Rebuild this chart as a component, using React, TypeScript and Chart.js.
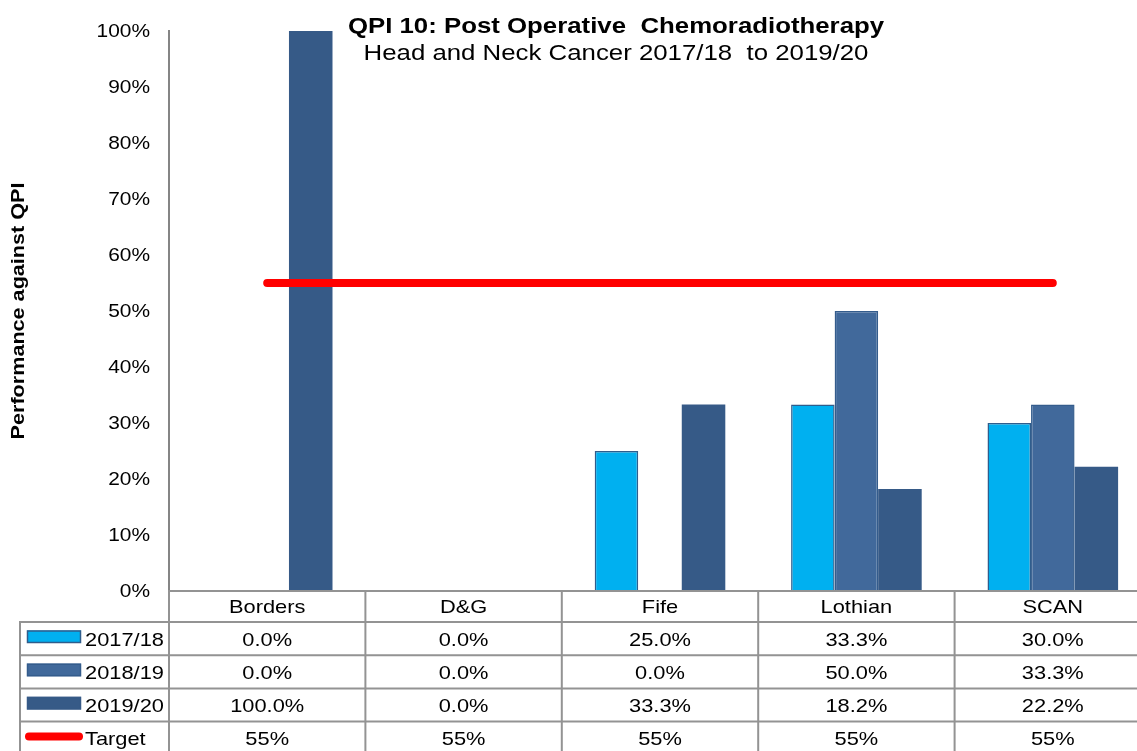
import React, { useEffect, useRef } from "react";
import { Chart, registerables } from "chart.js";

Chart.register(...registerables);

const CATEGORIES = ["Borders", "D&G", "Fife", "Lothian", "SCAN"];
const SERIES_NAMES = ["2017/18", "2018/19", "2019/20"];
const VALUES_2017_18 = [0.0, 0.0, 25.0, 33.3, 30.0];
const VALUES_2018_19 = [0.0, 0.0, 0.0, 50.0, 33.3];
const VALUES_2019_20 = [100.0, 0.0, 33.3, 18.2, 22.2];
const TARGET = [55, 55, 55, 55, 55];
const TARGET_NAME = "Target";
const Y_TICKS = [0, 10, 20, 30, 40, 50, 60, 70, 80, 90, 100];
const TITLE = "QPI 10: Post Operative  Chemoradiotherapy";
const SUBTITLE = "Head and Neck Cancer 2017/18  to 2019/20";
const Y_TITLE = "Performance against QPI";

const FILLS = ["#00B0F0", "#41699B", "#365A87"];
const BORDERS = ["#2F5D8C", "#345C8C", "#365A87"];
const FONT = "Arial, 'Liberation Sans', sans-serif";
const LINE_GRAY = "#939393";
const STRETCH = 1.18;

function text(
  ctx: CanvasRenderingContext2D,
  s: string,
  x: number,
  y: number,
  align: CanvasTextAlign,
  font: string,
  baseline: CanvasTextBaseline = "alphabetic",
  rotate = 0,
  stretch = STRETCH
) {
  ctx.save();
  ctx.font = font;
  (ctx as any).letterSpacing = "0px";
  ctx.textAlign = align;
  ctx.textBaseline = baseline;
  ctx.fillStyle = "#000";
  ctx.translate(x, y);
  if (rotate) ctx.rotate(rotate);
  ctx.scale(stretch, 1);
  ctx.fillText(s, 0, 0);
  ctx.restore();
}

const tablePlugin = {
  id: "tablePlugin",
  afterDraw(chart: any) {
    const ctx: CanvasRenderingContext2D = chart.ctx;
    const area = chart.chartArea;
    const xs = chart.scales.x;
    const ys = chart.scales.y;
    const n = CATEGORIES.length;
    const colW = (area.right - area.left) / n;
    const headerTop = area.bottom;
    const headerH = 31;
    const rowH = 33.2;
    const rowsTop = headerTop + headerH;
    const nRows = 4;
    const bottom = rowsTop + rowH * nRows;
    const tableLeft = 20;

    Y_TICKS.forEach((v) => {
      text(ctx, v + "%", 150, ys.getPixelForValue(v) + 1, "right", `18.5px ${FONT}`, "middle", 0, 1.13);
    });
    text(ctx, Y_TITLE, 19, (area.top + area.bottom) / 2, "center", `bold 18px ${FONT}`, "middle", -Math.PI / 2, 1.2);

    ctx.save();
    ctx.strokeStyle = LINE_GRAY;
    ctx.lineWidth = 2;
    ctx.beginPath();
    ctx.moveTo(area.left - 1, headerTop);
    ctx.lineTo(area.right + 1, headerTop);
    for (let r = 0; r < nRows; r++) {
      const y = rowsTop + r * rowH;
      ctx.moveTo(tableLeft - 1, y);
      ctx.lineTo(area.right + 1, y);
    }
    ctx.moveTo(tableLeft, rowsTop);
    ctx.lineTo(tableLeft, bottom);
    for (let i = 0; i <= n; i++) {
      const xb = i < n ? xs.getPixelForValue(i) - colW / 2 : xs.getPixelForValue(n - 1) + colW / 2;
      ctx.moveTo(xb, headerTop);
      ctx.lineTo(xb, bottom);
    }
    ctx.stroke();
    ctx.restore();

    const cellFont = `18.5px ${FONT}`;
    CATEGORIES.forEach((c, i) => {
      text(ctx, c, xs.getPixelForValue(i), headerTop + 22, "center", cellFont);
    });

    const seriesVals = [VALUES_2017_18, VALUES_2018_19, VALUES_2019_20];
    for (let r = 0; r < nRows; r++) {
      const top = rowsTop + r * rowH;
      const base = top + 23.5;
      ctx.save();
      if (r < 3) {
        ctx.fillStyle = FILLS[r];
        ctx.fillRect(27, top + 8.5, 54, 12.5);
        ctx.strokeStyle = BORDERS[r];
        ctx.lineWidth = 1.5;
        ctx.strokeRect(27.5, top + 9, 53, 11.5);
      } else {
        ctx.strokeStyle = "#FF0000";
        ctx.lineWidth = 8;
        ctx.lineCap = "round";
        ctx.beginPath();
        ctx.moveTo(29, top + 15);
        ctx.lineTo(79, top + 15);
        ctx.stroke();
      }
      ctx.restore();
      const label = r < 3 ? SERIES_NAMES[r] : TARGET_NAME;
      text(ctx, label, 85, base, "left", cellFont);
      for (let i = 0; i < n; i++) {
        const v = r < 3 ? seriesVals[r][i].toFixed(1) + "%" : TARGET[i] + "%";
        text(ctx, v, xs.getPixelForValue(i), base, "center", cellFont);
      }
    }

    text(ctx, TITLE, 616, 33, "center", `bold 21.5px ${FONT}`, "alphabetic", 0, 1.2);
    text(ctx, SUBTITLE, 616, 60, "center", `21.5px ${FONT}`, "alphabetic", 0, 1.2);
  },
};

export default function App() {
  const ref = useRef<HTMLCanvasElement | null>(null);
  useEffect(() => {
    document.body.style.margin = "0";
    document.body.style.overflow = "hidden";
    const canvas = ref.current!;
    const barDs = (label: string, data: number[], i: number) => ({
      type: "bar" as const,
      label,
      data,
      backgroundColor: FILLS[i],
      borderColor: BORDERS[i],
      borderWidth: (c: any) => (c.raw === 0 ? 0 : i === 2 ? 0 : 1.5),
      order: 1,
      barPercentage: 1,
      categoryPercentage: 0.665,
    });
    const chart = new Chart(canvas, {
      type: "bar",
      data: {
        labels: CATEGORIES,
        datasets: [
          barDs(SERIES_NAMES[0], VALUES_2017_18, 0),
          barDs(SERIES_NAMES[1], VALUES_2018_19, 1),
          barDs(SERIES_NAMES[2], VALUES_2019_20, 2),
          {
            type: "line" as const,
            label: TARGET_NAME,
            data: TARGET,
            borderColor: "#FF0000",
            backgroundColor: "#FF0000",
            borderWidth: 8,
            borderCapStyle: "round",
            pointRadius: 0,
            order: 0,
          } as any,
        ],
      },
      options: {
        responsive: false,
        animation: false,
        layout: { padding: { top: 31, bottom: 160, left: 0, right: 9 } },
        plugins: {
          legend: { display: false },
          title: { display: false },
          tooltip: { enabled: false },
        },
        scales: {
          x: { display: false },
          y: {
            min: 0,
            max: 100,
            afterFit: (s: any) => {
              s.width = 169;
            },
            afterBuildTicks: (s: any) => {
              s.ticks = Y_TICKS.map((v) => ({ value: v }));
            },
            grid: { display: false, drawTicks: false },
            border: { display: true, color: "#858585", width: 2 },
            ticks: { display: false },
            title: { display: false },
          },
        },
      },
      plugins: [tablePlugin],
    } as any);
    return () => chart.destroy();
  }, []);
  return (
    <canvas
      ref={ref}
      width={1160}
      height={751}
      style={{ position: "absolute", left: 0, top: 0, width: 1160, height: 751 }}
    />
  );
}
